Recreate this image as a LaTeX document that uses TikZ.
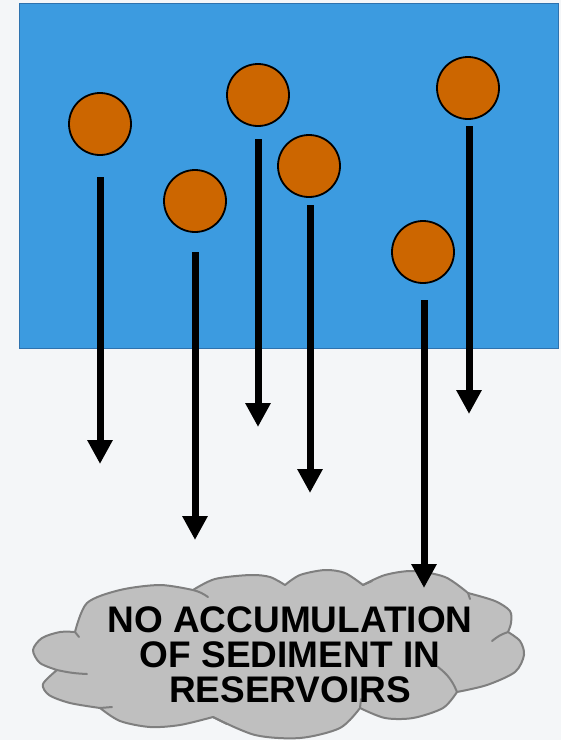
\documentclass[tikz,border=0pt]{standalone}
\usepackage{fontspec}
\setmainfont{Liberation Sans}
\usetikzlibrary{arrows.meta}
\definecolor{pagebg}{HTML}{F4F6F8}
\definecolor{waterfill}{HTML}{3C9BE0}
\definecolor{waterline}{HTML}{2E72AE}
\definecolor{grain}{HTML}{CC6600}
\definecolor{cloudfill}{HTML}{BFBFBF}
\definecolor{cloudline}{HTML}{7F7F7F}
\tikzset{
  particle/.style={circle, draw=black, line width=1.8pt, fill=grain, minimum size=62pt, inner sep=0pt},
  fall/.style={line width=7pt, -{Triangle[width=24pt,length=24pt]}},
  puffline/.style={draw=cloudline, line width=2pt, line join=round},
  puffedge/.style={cloudline, line width=2pt, line cap=round},
  cloudtext/.style={align=center, inner sep=0pt, font=\fontsize{37}{35}\selectfont\bfseries}
}
\begin{document}
\begin{tikzpicture}[x=1pt,y=-1pt]
  % page
  \fill[pagebg] (0,0) rectangle (561,740);
  \useasboundingbox (0,0) rectangle (561,740);
  % water body
  \draw[waterline, line width=1.5pt, fill=waterfill] (19.5,3.5) rectangle (558.5,348.5);
  % suspended sediment particles
  \node[particle] (s1) at (100,124) {};
  \node[particle] (s2) at (195,201) {};
  \node[particle] (s3) at (258,95) {};
  \node[particle] (s4) at (309,166) {};
  \node[particle] (s5) at (423,252) {};
  \node[particle] (s6) at (468,88) {};
  % where each fall path begins and ends
  \coordinate (a1) at (100,177); \coordinate (t1) at (100,464);
  \coordinate (a2) at (195,252); \coordinate (t2) at (195,540);
  \coordinate (a3) at (258,139); \coordinate (t3) at (258,427);
  \coordinate (a4) at (310,205); \coordinate (t4) at (310,493);
  \coordinate (a5) at (424,300); \coordinate (t5) at (424,588);
  \coordinate (a6) at (469,126); \coordinate (t6) at (469,414);
  % cloud outline, one puff after another
  \path[puffline, fill=cloudfill]
    plot[smooth] coordinates {(75,632) (87,603) (120,590) (160,585) (193,590)}
    -- plot[smooth] coordinates {(193,590) (215,579) (250,575) (270,577) (285,585)}
    -- plot[smooth] coordinates {(285,585) (300,575) (325,570) (345,573) (363,585)}
    -- plot[smooth] coordinates {(363,585) (385,575) (413,571) (445,577) (468,593)}
    -- plot[smooth] coordinates {(468,593) (495,601) (510,611) (511,623) (508,632)}
    -- plot[smooth] coordinates {(508,632) (520,641) (524,655) (515,672) (487,685) (457,692)}
    -- plot[smooth] coordinates {(457,692) (443,708) (413,718) (385,718) (360,708)}
    -- plot[smooth] coordinates {(360,708) (340,728) (300,738) (255,735) (213,717)}
    -- plot[smooth] coordinates {(213,717) (180,725) (150,727) (120,721) (100,708)}
    -- plot[smooth] coordinates {(100,708) (70,703) (49,695) (43,684) (57,670)}
    -- plot[smooth] coordinates {(57,670) (40,663) (33,650) (42,638) (60,632) (75,632)}
    -- cycle;
  % short inner arcs where the puffs meet
  \draw[puffedge] (193,590) to[bend left=10] (208,597);
  \draw[puffedge] (363,585) -- (372,581);
  \draw[puffedge] (468,593) -- (470,599);
  \draw[puffedge] (508,632) to[bend right=10] (492,641);
  \draw[puffedge] (457,692) to[bend right=15] (438,667);
  \draw[puffedge] (360,708) -- (361,699);
  \draw[puffedge] (213,717) -- (227,724);
  \draw[puffedge] (100,708) -- (112,707);
  \draw[puffedge] (57,670) to[bend right=5] (87,674);
  \draw[puffedge] (75,632) -- (79,637);
  % outcome text
  \node[cloudtext] (res) at (290,655) {NO ACCUMULATION\\OF SEDIMENT IN\\RESERVOIRS};
  % settling paths
  \foreach \i in {1,...,6} \draw[fall] (a\i) -- (t\i);
\end{tikzpicture}
\end{document}
